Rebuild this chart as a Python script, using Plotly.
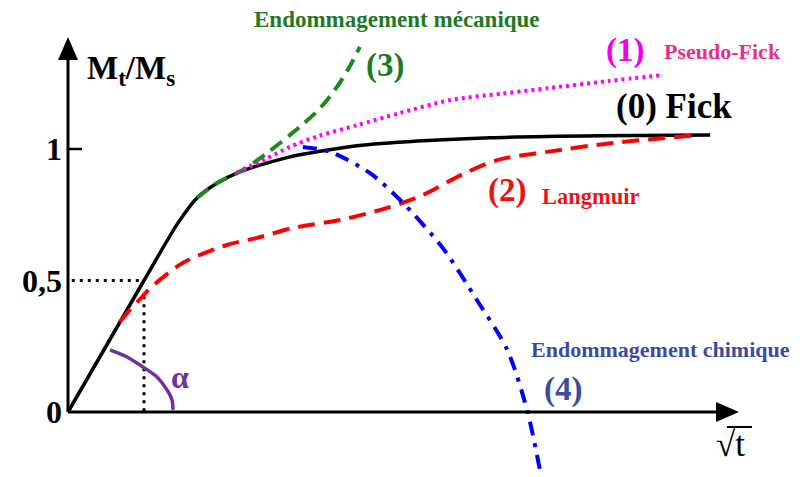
import plotly.graph_objects as go

# --- courbes (x = racine du temps, y = Mt/Ms) ---
fick_x = [0, 1.0, 1.45, 1.7, 1.96, 2.26, 2.6, 2.92, 3.4, 3.8, 4.6, 5.55, 7.0, 8.45]
fick_y = [0, 0.5, 0.72, 0.815, 0.87, 0.913, 0.945, 0.97, 0.995, 1.012, 1.03, 1.043, 1.05, 1.053]

pseudo_x = [2.22, 2.6, 2.92, 3.3, 3.8, 4.37, 5.03, 5.7, 6.34, 7.1, 7.83]
pseudo_y = [0.91, 0.962, 1.008, 1.05, 1.09, 1.137, 1.186, 1.21, 1.232, 1.258, 1.281]

langmuir_x = [0.68, 0.82, 0.95, 1.08, 1.51, 2.09, 2.49, 2.96, 3.58, 4.2, 4.67, 5.2, 5.65, 6.3, 7.17, 8.32]
langmuir_y = [0.342, 0.39, 0.43, 0.47, 0.567, 0.635, 0.662, 0.70, 0.73, 0.776, 0.825, 0.905, 0.958, 0.989, 1.023, 1.053]

meca_x = [1.70, 1.96, 2.3, 2.62, 3.05, 3.3, 3.5, 3.68, 3.84]
meca_y = [0.815, 0.87, 0.92, 0.985, 1.084, 1.15, 1.22, 1.30, 1.388]

chim_x = [3.09, 3.45, 3.97, 4.37, 4.93, 5.38, 5.78, 6.04, 6.21]
chim_y = [1.008, 0.989, 0.909, 0.806, 0.624, 0.426, 0.236, 0.008, -0.221]

alpha_x = [0.553, 0.776, 0.987, 1.171, 1.303, 1.368, 1.382]
alpha_y = [0.236, 0.209, 0.171, 0.133, 0.084, 0.046, 0.008]

guide_h_x = [0.05, 1.0]
guide_h_y = [0.5, 0.5]
guide_v_x = [1.0, 1.0]
guide_v_y = [0.44, 0.0]

tick_vals = [0, 0.5, 1]
tick_text = ["0", "0,5", "1"]

# la page HTML garde une marge de 8 px autour du graphique
PAGE_W, PAGE_H, OFF = 800, 477, 8
W, H = PAGE_W - 2 * OFF, PAGE_H - 2 * OFF
X0, Y0, SX, SY = 68, 412, 76, 263  # origine et échelle, pixels de la page


def dx(px):
    return (px - X0) / SX


def dy(py):
    return (Y0 - py) / SY


def pp(px, py):
    return (px - OFF) / W, 1 - (py - OFF) / H


SERIF = "Liberation Serif"

fig = go.Figure()


def courbe(x, y, color, width, dash="solid"):
    fig.add_trace(go.Scatter(
        x=x, y=y, mode="lines",
        line=dict(color=color, width=width, dash=dash, shape="spline", smoothing=0.8),
        hoverinfo="skip",
    ))


courbe(guide_h_x, guide_h_y, "black", 3, "3px,5px")
courbe(guide_v_x, guide_v_y, "black", 3, "3px,5px")
courbe(fick_x, fick_y, "black", 3.5)
courbe(langmuir_x, langmuir_y, "#FF0000", 4, "17px,9px")
courbe(meca_x, meca_y, "#1A8C1A", 4, "14px,8px")
courbe(pseudo_x, pseudo_y, "#FF00FF", 4, "3px,4px")
courbe(chim_x, chim_y, "#0000FF", 4, "14px,8px,4px,8px")
courbe(alpha_x, alpha_y, "#7030A0", 3.5)

# axes fléchés
vx, vy = pp(727, 427)
shapes = [
    dict(type="line", x0=0, y0=0, x1=0, y1=dy(58), line=dict(color="black", width=3)),
    dict(type="line", x0=0, y0=0, x1=dx(718), y1=0, line=dict(color="black", width=3)),
    dict(type="line", x0=0, y0=1, x1=dx(82), y1=1, line=dict(color="black", width=2.5)),
    dict(type="path", path=f"M {dx(68)} {dy(37)} L {dx(58)} {dy(60)} L {dx(78)} {dy(60)} Z",
         fillcolor="black", line=dict(width=0)),
    dict(type="path", path=f"M {dx(739)} {dy(412)} L {dx(716)} {dy(402)} L {dx(716)} {dy(422)} Z",
         fillcolor="black", line=dict(width=0)),
    dict(type="line", xref="paper", yref="paper", x0=vx, x1=vx + 25 / W,
         y0=vy, y1=vy, line=dict(color="black", width=2)),
]

labels = [
    ("<b>Endommagement mécanique</b>", 397, 20, 23, "#1F7A1F"),
    ("<b>(3)</b>", 385, 66, 33, "#1E7B1E"),
    ("<b>(1)</b>", 625, 50, 33, "#EE00EE"),
    ("<b>Pseudo-Fick</b>", 722, 52, 22, "#E62E8A"),
    ("<b>(0) Fick</b>", 674, 106, 35, "black"),
    ("<b>(2)</b>", 507, 190, 33, "#EE1111"),
    ("<b>Langmuir</b>", 591, 196, 22.5, "#E8141B"),
    ("<b>Endommagement chimique</b>", 660, 349, 22, "#3A4BA0"),
    ("<b>(4)</b>", 563, 389, 33, "#3A4BA0"),
    ("<b>M<sub>t</sub>/M<sub>s</sub></b>", 131, 70, 33, "black"),
    ("<b>α</b>", 180, 377, 32, "#7030A0"),
    ("√t", 730, 444, 35, "black"),
]
annotations = []
for text, px, py, size, color in labels:
    x, y = pp(px, py)
    annotations.append(dict(
        text=text, x=x, y=y, xref="paper", yref="paper", showarrow=False,
        xanchor="center", yanchor="middle",
        font=dict(family=SERIF, size=size, color=color),
    ))

fig.update_layout(
    width=W, height=H,
    margin=dict(l=0, r=0, t=0, b=0),
    paper_bgcolor="white", plot_bgcolor="white",
    showlegend=False,
    shapes=shapes,
    annotations=annotations,
    xaxis=dict(range=[dx(OFF), dx(PAGE_W - OFF)], visible=False, fixedrange=True),
    yaxis=dict(
        range=[dy(PAGE_H - OFF), dy(OFF)], anchor="free", position=(X0 - OFF) / W,
        tickvals=tick_vals, ticktext=[f"<b>{t}</b>" for t in tick_text],
        tickfont=dict(family=SERIF, size=32, color="black"),
        showgrid=False, zeroline=False, showline=False, ticks="",
        ticklabelstandoff=6, fixedrange=True,
    ),
)

fig.write_html("out.html")
